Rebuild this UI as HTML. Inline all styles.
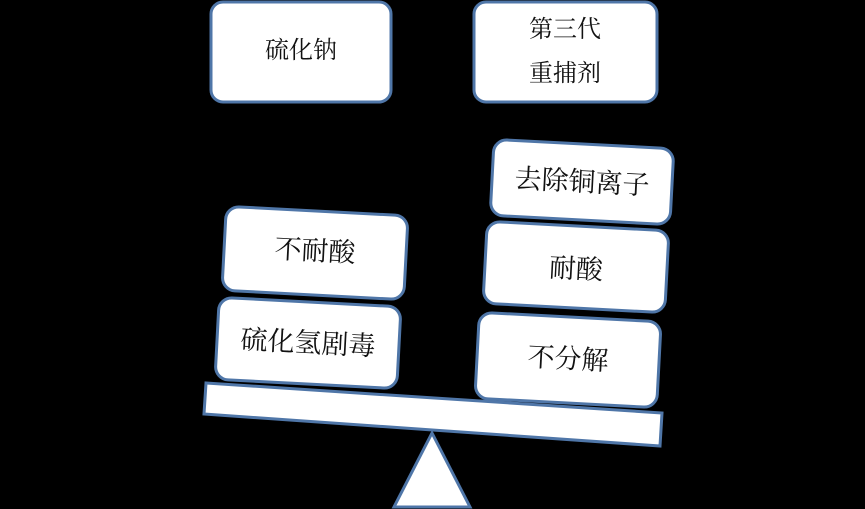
<!DOCTYPE html>
<html><head><meta charset="utf-8"><style>
html,body{margin:0;padding:0;background:#000;}
svg{display:block}
text{font-family:"Liberation Serif","Noto Serif CJK SC","Noto Sans CJK SC",serif;fill:#111;text-anchor:middle;dominant-baseline:central}
</style></head><body>
<svg width="865" height="509" viewBox="0 0 865 509" xmlns="http://www.w3.org/2000/svg">
<rect width="865" height="509" fill="#000"/>
<g fill="#fff" stroke="#4f76a8" stroke-width="3">
<rect x="211" y="2" width="180" height="100" rx="12"/>
<rect x="474" y="2" width="183" height="100" rx="12"/>
<polygon points="206,383 662,413 660,446 204,414"/>
<polygon points="432,433 470,507 394,507"/>
<rect x="-91" y="-42" width="182" height="84" rx="13" transform="translate(315,253) rotate(3)"/>
<rect x="-91" y="-41" width="182" height="82" rx="13" transform="translate(308,343) rotate(3)"/>
<rect x="-90" y="-38" width="180" height="76" rx="13" transform="translate(582,182) rotate(3)"/>
<rect x="-91" y="-41" width="182" height="82" rx="13" transform="translate(576,267) rotate(3)"/>
<rect x="-91" y="-43" width="182" height="86" rx="13" transform="translate(568,360) rotate(3)"/>
</g>
<text x="301" y="51" font-size="24">硫化钠</text>
<text x="565" y="30" font-size="24">第三代</text>
<text x="565" y="74" font-size="24">重捕剂</text>
<text transform="translate(315,251) rotate(3)" font-size="27">不耐酸</text>
<text transform="translate(308,343) rotate(3)" font-size="27">硫化氢剧毒</text>
<text transform="translate(582,182) rotate(3)" font-size="27">去除铜离子</text>
<text transform="translate(576,269) rotate(3)" font-size="27">耐酸</text>
<text transform="translate(568,359) rotate(3)" font-size="27">不分解</text>
</svg>
</body></html>
